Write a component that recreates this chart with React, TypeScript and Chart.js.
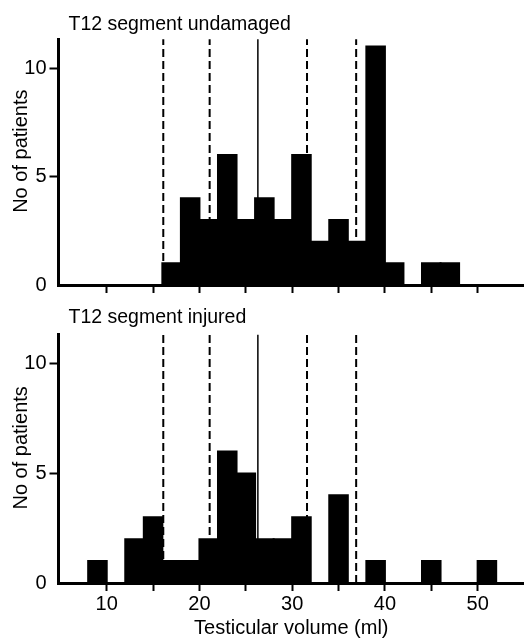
import React, { useEffect, useRef } from 'react';
import { Chart, registerables } from 'chart.js';

Chart.register(...registerables);

// ---- data ----
const binStarts = [8, 10, 12, 14, 16, 18, 20, 22, 24, 26, 28, 30, 32, 34, 36, 38, 40, 42, 44, 46, 48, 50, 52];
const undamagedCounts = [0, 0, 0, 0, 1, 4, 3, 6, 3, 4, 3, 6, 2, 3, 2, 11, 1, 0, 1, 1, 0, 0, 0];
const injuredCounts = [1, 0, 2, 3, 1, 1, 2, 6, 5, 2, 2, 3, 0, 4, 0, 1, 0, 0, 1, 0, 0, 1, 0];
const binWidth = 2;
const referenceLines = [16.1, 21.1, 26.3, 31.6, 36.9];
const referenceLineKinds = ['dashed', 'dashed', 'solid', 'dashed', 'dashed'];
const xTickValues = [10, 15, 20, 25, 30, 35, 40, 45, 50];
const xLabelValues = [10, 20, 30, 40, 50];
const yTickValues = [0, 5, 10];
const panelTitles = ['T12 segment undamaged', 'T12 segment injured'];
const yAxisTitle = 'No of patients';
const xAxisTitle = 'Testicular volume (ml)';

const X_MIN = 4.8;
const X_MAX = 55.0;
const Y_MAX = 11.33;
const FONT = "'Liberation Sans', Arial, sans-serif";

type PanelProps = {
  title: string;
  counts: number[];
  showXLabels: boolean;
  height: number;
  padTop: number;
  xAxisHeight: number;
  titleBaseline: number;
};

function Panel({ title, counts, showXLabels, height, padTop, xAxisHeight, titleBaseline }: PanelProps) {
  const ref = useRef<HTMLCanvasElement | null>(null);

  useEffect(() => {
    const canvas = ref.current;
    if (!canvas) return;

    const textPlugin = {
      id: 'panelText',
      afterDraw(chart: any) {
        const { ctx, chartArea } = chart;
        ctx.save();
        ctx.fillStyle = '#000';
        ctx.font = `19.5px ${FONT}`;
        ctx.textAlign = 'left';
        ctx.textBaseline = 'alphabetic';
        ctx.fillText(title, chartArea.left + 10, titleBaseline);
        ctx.font = `20px ${FONT}`;
        ctx.translate(21, (chartArea.top + chartArea.bottom) / 2 - 11);
        ctx.rotate(-Math.PI / 2);
        ctx.textAlign = 'center';
        ctx.textBaseline = 'middle';
        ctx.fillText(yAxisTitle, 0, 0);
        ctx.restore();
      },
    };

    const lineDatasets = referenceLines.map((v, i) => ({
      type: 'line' as const,
      data: [
        { x: v, y: 0 },
        { x: v, y: Y_MAX },
      ],
      borderColor: '#000',
      borderWidth: referenceLineKinds[i] === 'solid' ? 1.5 : 2,
      borderDash: referenceLineKinds[i] === 'solid' ? [] : [8, 4],
      pointRadius: 0,
      order: 2,
      clip: false as any,
    }));

    const chart = new Chart(canvas, {
      type: 'bar',
      data: {
        datasets: [
          {
            type: 'bar',
            data: binStarts.map((b, i) => ({ x: b + binWidth / 2, y: counts[i] })),
            backgroundColor: '#000',
            borderColor: '#000',
            borderWidth: 0,
            inflateAmount: 1,
            barPercentage: 1,
            categoryPercentage: 1,
            order: 1,
          } as any,
          ...lineDatasets,
        ],
      },
      options: {
        animation: false,
        responsive: false,
        layout: { padding: { top: padTop, left: 0, right: 0, bottom: 0 } },
        plugins: {
          legend: { display: false },
          tooltip: { enabled: false },
          title: { display: false },
        },
        scales: {
          x: {
            type: 'linear',
            min: X_MIN,
            max: X_MAX,
            offset: false,
            afterBuildTicks: (s: any) => {
              s.ticks = xTickValues.map((v) => ({ value: v }));
            },
            afterFit: (s: any) => {
              s.height = xAxisHeight;
            },
            ticks: {
              autoSkip: false,
              maxRotation: 0,
              padding: 1,
              color: '#000',
              font: { family: FONT, size: 20 },
              callback: (v: any) => (showXLabels && xLabelValues.includes(Number(v)) ? String(v) : ''),
            },
            grid: {
              offset: false,
              drawOnChartArea: false,
              drawTicks: true,
              tickLength: 8,
              tickWidth: 2,
              tickColor: '#000',
            },
            border: { display: true, color: '#000', width: 3, z: 1 },
            title: {
              display: showXLabels,
              text: xAxisTitle,
              color: '#000',
              padding: 0,
              font: { family: FONT, size: 20, lineHeight: 1.05 },
            },
          },
          y: {
            type: 'linear',
            min: 0,
            max: Y_MAX,
            afterBuildTicks: (s: any) => {
              s.ticks = yTickValues.map((v) => ({ value: v }));
            },
            afterFit: (s: any) => {
              s.width = 58.5;
            },
            ticks: {
              padding: 3,
              color: '#000',
              font: { family: FONT, size: 20 },
            },
            grid: {
              drawOnChartArea: false,
              drawTicks: true,
              tickLength: 9,
              tickWidth: 2,
              tickColor: (ctx: any) => (ctx.tick && ctx.tick.value === 0 ? 'rgba(0,0,0,0)' : '#000'),
            },
            border: { display: true, color: '#000', width: 3 },
          },
        },
      } as any,
      plugins: [textPlugin],
    });

    return () => chart.destroy();
  }, [title, counts, showXLabels, height, padTop, xAxisHeight, titleBaseline]);

  return <canvas ref={ref} width={524} height={height} style={{ display: 'block', width: 524, height }} />;
}

export default function App() {
  return (
    <div style={{ position: 'absolute', left: 0, top: 0, width: 524, height: 639, background: '#fff' }}>
      <Panel
        title={panelTitles[0]}
        counts={undamagedCounts}
        showXLabels={false}
        height={300}
        padTop={39.3}
        xAxisHeight={13.3}
        titleBaseline={30}
      />
      <Panel
        title={panelTitles[1]}
        counts={injuredCounts}
        showXLabels={true}
        height={339}
        padTop={34.7}
        xAxisHeight={56}
        titleBaseline={23.3}
      />
    </div>
  );
}
